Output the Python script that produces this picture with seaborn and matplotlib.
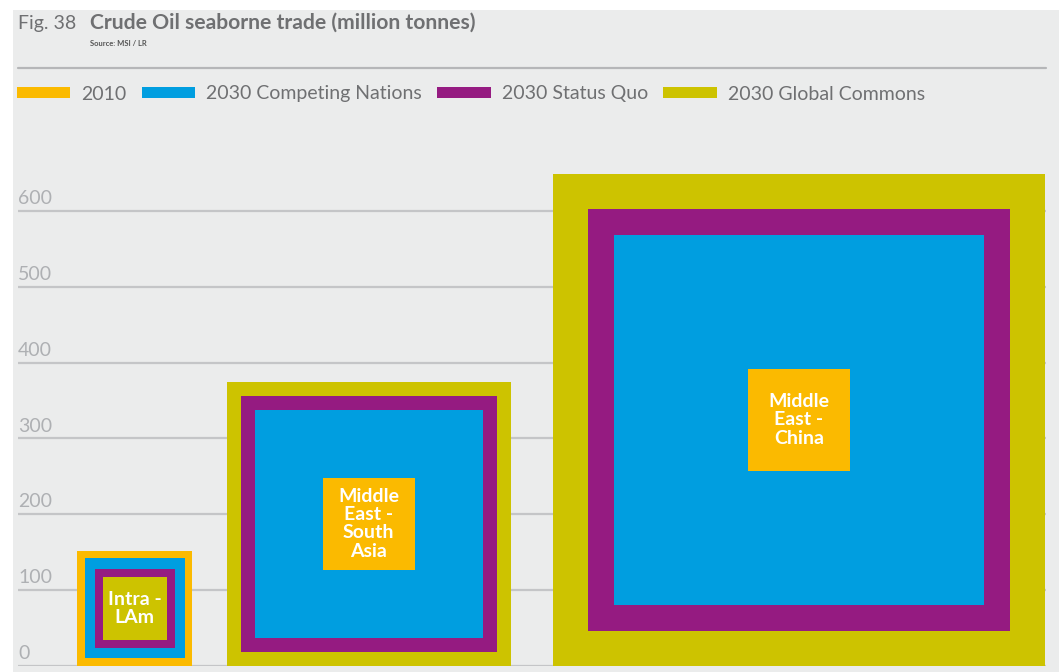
import numpy as np
import pandas as pd
import matplotlib
matplotlib.use("Agg")
import matplotlib.pyplot as plt
from matplotlib.patches import Patch, Rectangle
from matplotlib.lines import Line2D
import seaborn as sns

# ---------------- data ----------------
routes = ["Intra -\nLAm", "Middle\nEast -\nSouth\nAsia", "Middle\nEast -\nChina"]
scenarios = ["2010", "2030 Competing Nations", "2030 Status Quo", "2030 Global Commons"]
v2010 = [152, 121, 135]
v_competing = [132, 301, 488]
v_status_quo = [105, 337, 556]
v_global = [84, 375, 649]
y_ticks = [0, 100, 200, 300, 400, 500, 600]

title_prefix = "Fig. 38"
title_text = "Crude Oil seaborne trade (million tonnes)"
source_text = "Source: MSI / LR"

# ---------------- style ----------------
sns.set_theme(style="white")
plt.rcParams["font.family"] = ["Lato", "DejaVu Sans"]
palette = sns.color_palette(["#FBBA00", "#009EE0", "#951B81", "#CDC300"])
text_grey = "#6f7072"
tick_grey = "#aeb0b3"
grid_grey = "#c4c5c7"

df = pd.DataFrame({
    "route": np.repeat(routes, len(scenarios)),
    "scenario": scenarios * len(routes),
    "value": np.ravel(np.column_stack([v2010, v_competing, v_status_quo, v_global])),
})

W, H = 1059, 672
fig = plt.figure(figsize=(W / 100, H / 100), dpi=100, facecolor="white")
fig.patches.append(Rectangle((13 / W, 0), 1 - 13 / W, 1 - 10 / H, transform=fig.transFigure,
                             facecolor="#EBECEC", edgecolor="none", zorder=-10))

ax_left, ax_right, ax_bottom, ax_top = 18, 1046, 666, 173
ax = fig.add_axes([ax_left / W, (H - ax_bottom) / H, (ax_right - ax_left) / W, (ax_bottom - ax_top) / H])
ax.set_facecolor("none")
y_max = 650
ax.set_ylim(0, y_max)
ax.set_xlim(0, y_max * (ax_right - ax_left) / (ax_bottom - ax_top))
for s in ax.spines.values():
    s.set_visible(False)
ax.set_xticks([])
ax.set_yticks([])

# gridlines and tick labels
for t in y_ticks:
    ax.axhline(t, color=grid_grey, lw=1.6, zorder=0)
    ax.annotate(str(t), xy=(0, t), xytext=(0, 5), textcoords="offset points",
                ha="left", va="baseline", fontsize=14, color=tick_grey, zorder=1)

# nested squares
start, gaps = 78, [45, 55]
left = start
color_map = dict(zip(scenarios, palette))
for i, route in enumerate(routes):
    sub = df[df.route == route].sort_values("value", ascending=False)
    side_max = sub.value.max()
    cx = left + side_max / 2
    cy = side_max / 2
    for _, row in sub.iterrows():
        ax.bar(cx, row.value, width=row.value, bottom=cy - row.value / 2,
               color=color_map[row.scenario], edgecolor="none", zorder=2, clip_on=False)
    ax.text(cx, cy, route, ha="center", va="center", color="white", fontsize=14,
            fontweight="bold", linespacing=1.1, zorder=3)
    if i < len(gaps):
        left += side_max + gaps[i]

# title block
fig.text(18 / W, 1 - 29 / H, title_prefix, ha="left", va="baseline", fontsize=14, color=text_grey)
fig.text(90 / W, 1 - 29 / H, title_text, ha="left", va="baseline", fontsize=15.2,
         fontweight="bold", color=text_grey)
fig.text(90 / W, 1 - 46 / H, source_text, ha="left", va="baseline", fontsize=5.5,
         fontweight="bold", color="#555555")
fig.lines.append(Line2D([18 / W, 1046 / W], [1 - 68 / H, 1 - 68 / H], transform=fig.transFigure,
                        color="#b5b6b8", lw=1.6))

# legend
handles = [Patch(facecolor=c, edgecolor="none") for c in palette]
fig.legend(handles, scenarios, loc="center left", bbox_to_anchor=(17 / W, 1 - 94 / H),
           ncol=4, frameon=False, fontsize=14, labelcolor=text_grey,
           handlelength=2.75, handleheight=0.48, handletextpad=0.55, columnspacing=0.8,
           borderpad=0, borderaxespad=0)

fig.savefig("out.png", dpi=100, facecolor="white")
